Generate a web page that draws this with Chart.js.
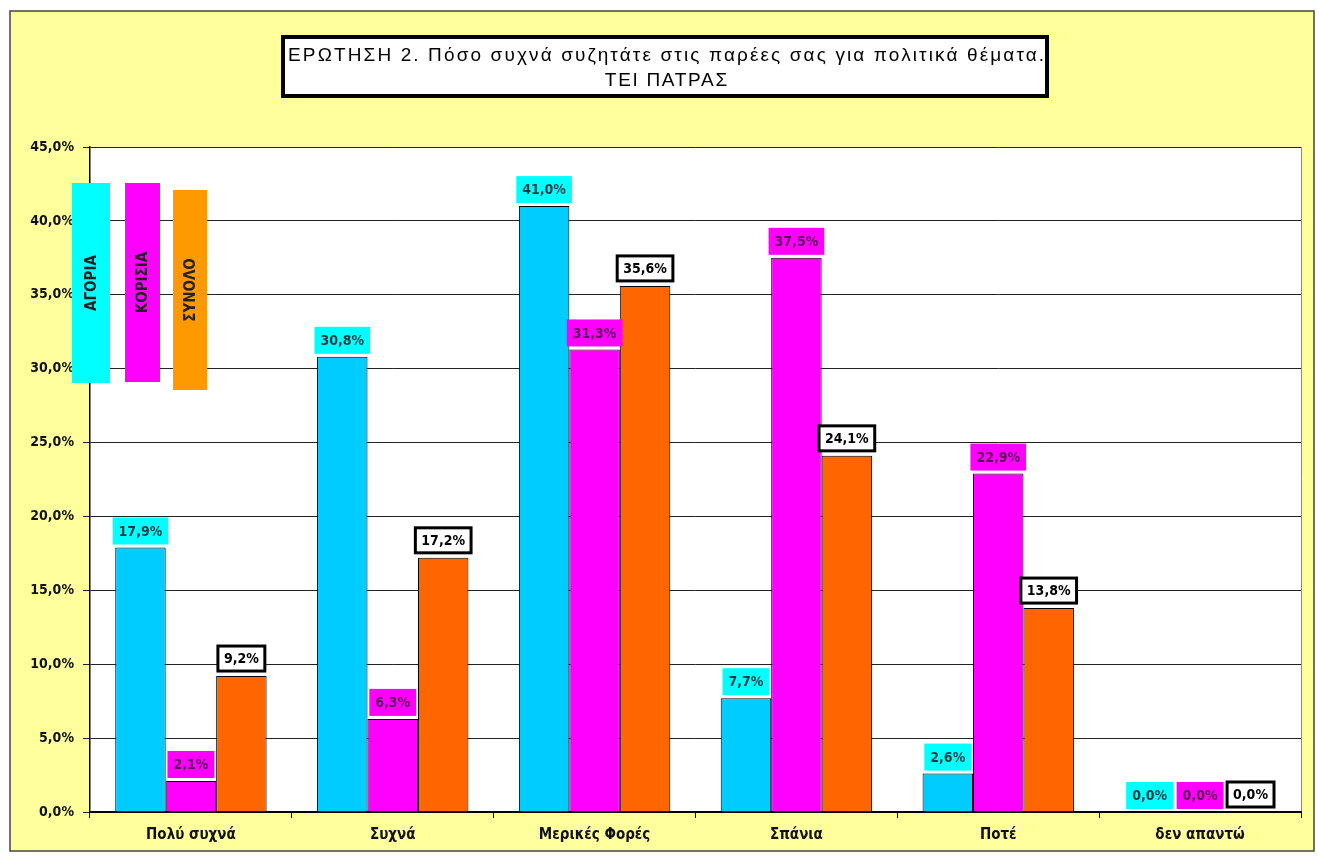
<!DOCTYPE html>
<html>
<head>
<meta charset="utf-8">
<script src="https://cdn.jsdelivr.net/npm/chart.js@4/dist/chart.umd.min.js"></script>
<style>
  body { margin: 0; background: #fff; }
  canvas { display: block; }
</style>
</head>
<body>
<canvas id="out" width="1319" height="860"></canvas>
<script>
// data
const categories = ["Πολύ συχνά", "Συχνά", "Μερικές Φορές", "Σπάνια", "Ποτέ", "δεν απαντώ"];
const seriesNames = ["ΑΓΟΡΙΑ", "ΚΟΡΙΣΙΑ", "ΣΥΝΟΛΟ"];
const boys = [17.9, 30.8, 41.0, 7.7, 2.6, 0.0];
const girls = [2.1, 6.3, 31.3, 37.5, 22.9, 0.0];
const total = [9.2, 17.2, 35.6, 24.1, 13.8, 0.0];
const titleLines = ["ΕΡΩΤΗΣΗ 2. Πόσο συχνά συζητάτε στις παρέες σας για πολιτικά θέματα.", "ΤΕΙ ΠΑΤΡΑΣ"];

const narrow = "'Liberation Sans Narrow', 'DejaVu Sans Condensed', Arial, sans-serif";

const barColors = ["#00CCFF", "#FF00FF", "#FF6600"];
const labelStyles = [
  {bg: "#00FFFF", color: "#1a3a40", border: null},
  {bg: "#FF00FF", color: "#5a0a5a", border: null},
  {bg: "#FFFFFF", color: "#000000", border: "#000000"}
];
const legendBoxes = [
  {x: 72, y: 183, w: 38, h: 200, bg: "#00FFFF"},
  {x: 125, y: 183, w: 35, h: 199, bg: "#FF00FF"},
  {x: 173, y: 190, w: 34, h: 200, bg: "#FF9900"}
];

function pct(v) {
  return v.toFixed(1).replace(".", ",") + "%";
}

// draws text spread out to a given width, like the stretched title in the picture
function spreadText(ctx, text, cx, cy, width) {
  ctx.letterSpacing = "0px";
  const plain = ctx.measureText(text).width;
  const n = [...text].length;
  const sp = Math.max(0, (width - plain) / n);
  ctx.letterSpacing = sp.toFixed(2) + "px";
  ctx.textAlign = "left";
  ctx.fillText(text, cx - (plain + sp * (n - 1)) / 2, cy);
  ctx.letterSpacing = "0px";
}

const background = {
  id: "background",
  beforeDraw(chart) {
    const ctx = chart.ctx;
    const a = chart.chartArea;
    ctx.save();
    ctx.fillStyle = "#FFFF9C";
    ctx.fillRect(10, 11, 1304, 840);
    ctx.strokeStyle = "#444";
    ctx.lineWidth = 1.5;
    ctx.strokeRect(10, 11, 1304, 840);
    ctx.fillStyle = "#fff";
    ctx.fillRect(a.left, a.top, a.right - a.left, a.bottom - a.top);
    ctx.strokeStyle = "#888";
    ctx.lineWidth = 1;
    ctx.beginPath();
    ctx.moveTo(a.right + 0.5, a.top);
    ctx.lineTo(a.right + 0.5, a.bottom);
    ctx.stroke();

    // title box
    ctx.fillStyle = "#fff";
    ctx.fillRect(281, 35, 768, 63);
    ctx.strokeStyle = "#000";
    ctx.lineWidth = 4;
    ctx.strokeRect(283, 37, 764, 59);
    ctx.fillStyle = "#000";
    ctx.font = "19px 'Liberation Sans', Arial, sans-serif";
    ctx.textBaseline = "middle";
    spreadText(ctx, titleLines[0], 666, 56, 758);
    spreadText(ctx, titleLines[1], 666, 81, 124);
    ctx.restore();
  }
};

const labelsAndLegend = {
  id: "labelsAndLegend",
  afterDatasetsDraw(chart) {
    const ctx = chart.ctx;
    ctx.save();
    ctx.font = "bold 14px " + narrow;
    ctx.textAlign = "center";
    ctx.textBaseline = "middle";
    chart.data.datasets.forEach((ds, i) => {
      const st = labelStyles[i];
      chart.getDatasetMeta(i).data.forEach((bar, j) => {
        const text = pct(ds.data[j]);
        const w = ctx.measureText(text).width + 12;
        const h = st.border ? 25 : 27;
        const x = bar.x - w / 2;
        const y = bar.y - (st.border ? 5 : 3) - h;
        ctx.fillStyle = st.bg;
        ctx.fillRect(x, y, w, h);
        if (st.border) {
          ctx.strokeStyle = st.border;
          ctx.lineWidth = 3;
          ctx.strokeRect(x, y, w, h);
        }
        ctx.fillStyle = st.color;
        ctx.fillText(text, bar.x, y + h / 2 + 1);
      });
    });

    // legend as coloured vertical boxes
    ctx.font = "bold 15px " + narrow;
    legendBoxes.forEach((b, i) => {
      ctx.fillStyle = b.bg;
      ctx.fillRect(b.x, b.y, b.w, b.h);
      ctx.save();
      ctx.translate(b.x + b.w / 2, b.y + b.h / 2);
      ctx.rotate(-Math.PI / 2);
      ctx.fillStyle = "#222";
      ctx.fillText(seriesNames[i], 0, 1);
      ctx.restore();
    });
    ctx.restore();
  }
};

new Chart(document.getElementById("out").getContext("2d"), {
  type: "bar",
  data: {
    labels: categories,
    datasets: [boys, girls, total].map((d, i) => ({
      label: seriesNames[i],
      data: d,
      backgroundColor: barColors[i],
      borderColor: "#000",
      borderWidth: 1,
      borderSkipped: "bottom",
      categoryPercentage: 0.75,
      barPercentage: 1.0
    }))
  },
  options: {
    responsive: false,
    animation: false,
    layout: {padding: {top: 147, left: 0, right: 18, bottom: 10}},
    plugins: {legend: {display: false}, tooltip: {enabled: false}},
    scales: {
      x: {
        afterFit(scale) { scale.height = 38; },
        grid: {offset: true, drawOnChartArea: false, drawTicks: true, tickLength: 6, color: "#000"},
        border: {color: "#000", width: 2},
        ticks: {color: "#111", padding: 8, font: {family: narrow, size: 15, weight: "bold"}}
      },
      y: {
        min: 0,
        max: 45,
        afterFit(scale) { scale.width = 90; },
        grid: {color: "#222", lineWidth: 1, tickLength: 7},
        border: {color: "#000", width: 1.5},
        ticks: {
          stepSize: 5,
          color: "#111",
          padding: 9,
          font: {family: narrow, size: 14, weight: "bold"},
          callback: v => pct(v)
        }
      }
    }
  },
  plugins: [background, labelsAndLegend]
});
</script>
</body>
</html>
